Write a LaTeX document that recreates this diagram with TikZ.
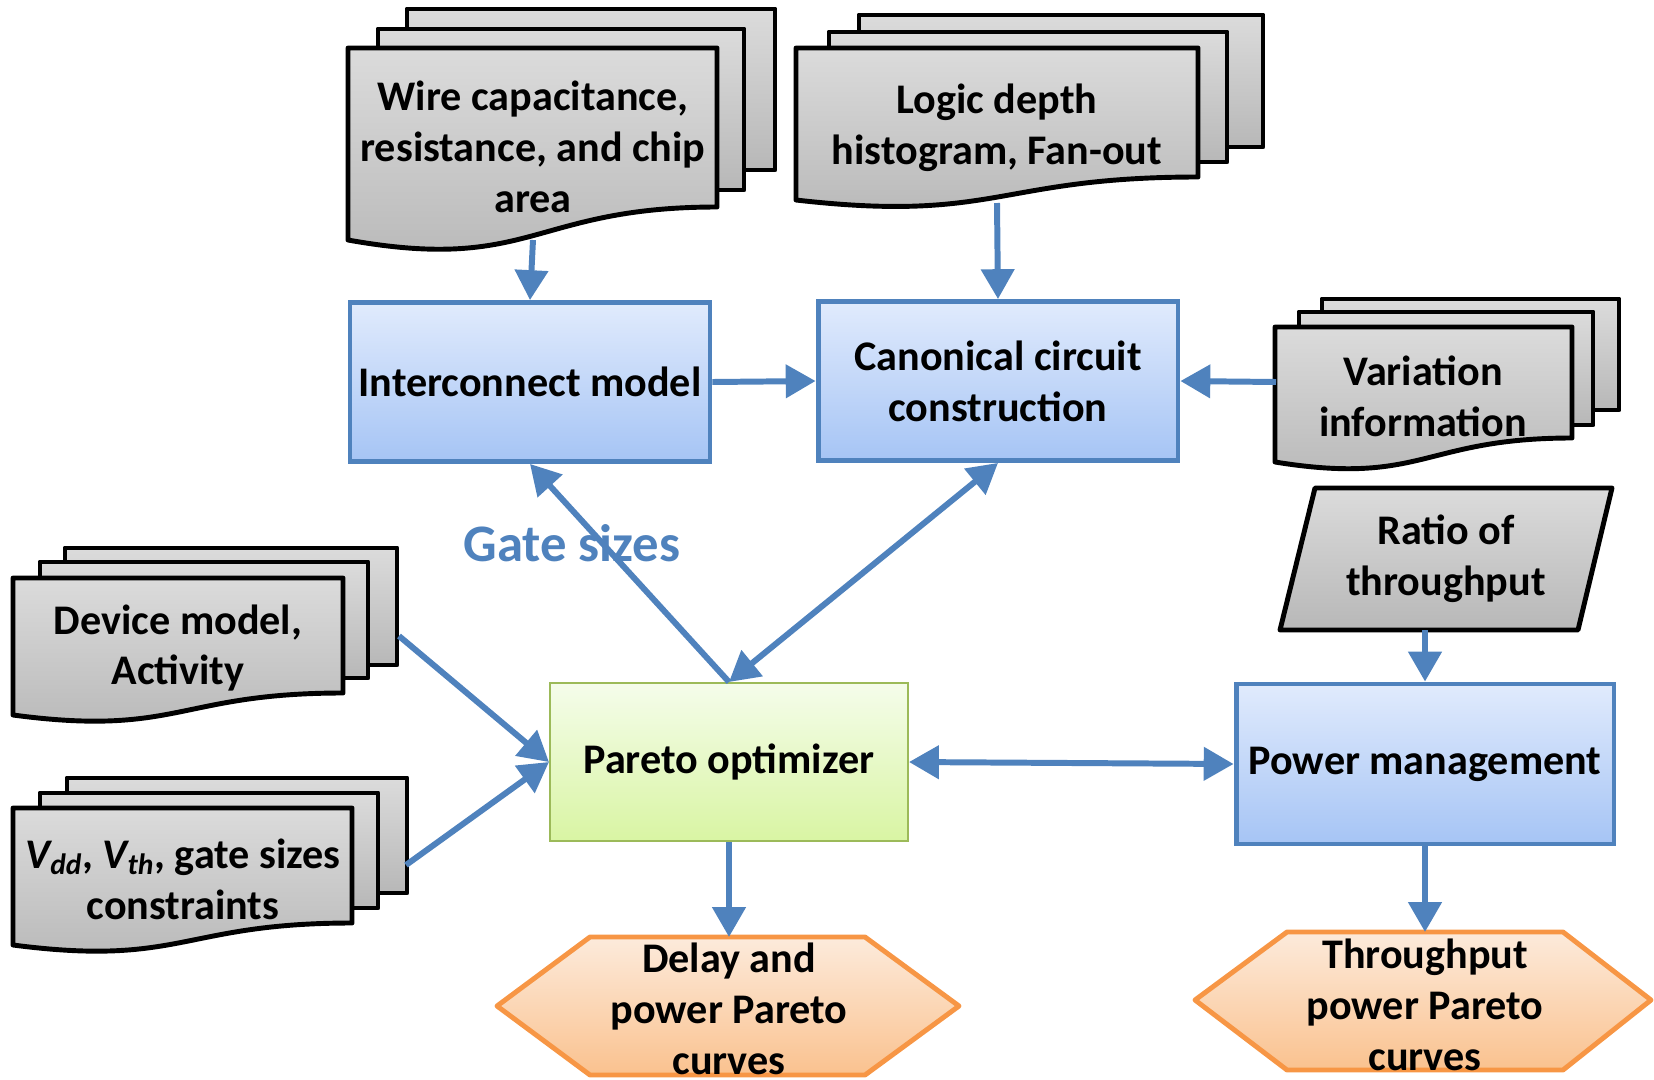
\documentclass[tikz,border=0pt]{standalone}
\usepackage{fontspec}
\setmainfont{Carlito}
\usetikzlibrary{arrows.meta}
\definecolor{arrblue}{rgb}{0.31,0.51,0.74}
\definecolor{bluetop}{rgb}{0.88,0.92,0.99}
\definecolor{bluebot}{rgb}{0.65,0.77,0.96}
\definecolor{greytop}{rgb}{0.86,0.86,0.86}
\definecolor{greybot}{rgb}{0.72,0.72,0.72}
\definecolor{greenln}{rgb}{0.61,0.73,0.35}
\definecolor{greentop}{rgb}{0.96,0.99,0.92}
\definecolor{greenbot}{rgb}{0.85,0.96,0.64}
\definecolor{orangeln}{rgb}{0.97,0.59,0.27}
\definecolor{orangetop}{rgb}{0.99,0.92,0.86}
\definecolor{orangebot}{rgb}{0.98,0.76,0.56}

\begin{document}
\begin{tikzpicture}[x=0.02cm,y=-0.02cm,
    page/.style={draw=black,line width=2.8pt,line join=round,top color=greytop,bottom color=greybot},
    txt/.style={font=\fontsize{24}{29}\selectfont\bfseries,align=center},
    blk/.style={txt,draw=arrblue,line width=2.8pt,top color=bluetop,bottom color=bluebot,minimum width=7.2cm,minimum height=3.18cm,inner sep=2pt},
    hexa/.style={draw=orangeln,line width=2.8pt,line join=round,top color=orangetop,bottom color=orangebot},
    link/.style={draw=arrblue,line width=3.4pt,-{Triangle[length=17pt,width=18.5pt]}},
    dlink/.style={draw=arrblue,line width=3.4pt,{Triangle[length=17pt,width=18.5pt]}-{Triangle[length=17pt,width=18.5pt]}}]
    \useasboundingbox (0,0) rectangle (1654,1079);

    % document stacks
    \draw[page] (407,9) rectangle (775,170);
    \draw[page] (378,29) rectangle (744,190);
    \draw[page] (348,48) -- (717,48) -- (717,207) .. controls (532,207) and (532,273) .. (348,240) -- cycle;
    \node[txt] (wire) at (533,147) {Wire capacitance,\\resistance, and chip\\area};

    \draw[page] (859,15) rectangle (1263,147);
    \draw[page] (829,32) rectangle (1227,162);
    \draw[page] (796,48) -- (1198,48) -- (1198,177) .. controls (997,177) and (997,223) .. (796,200) -- cycle;
    \node[txt] (logic) at (997,128) {Logic depth\\histogram, Fan-out};

    \draw[page] (1322,299) rectangle (1619,410);
    \draw[page] (1299,312) rectangle (1593,425);
    \draw[page] (1275,327) -- (1572,327) -- (1572,438) .. controls (1423,438) and (1423,486) .. (1275,462) -- cycle;
    \node[txt] (var) at (1423,396) {Variation\\information};

    \draw[page] (65,548) rectangle (397,665);
    \draw[page] (40,562) rectangle (368,678);
    \draw[page] (13,578) -- (343,578) -- (343,693) .. controls (178,693) and (178,737) .. (13,715) -- cycle;
    \node[txt] (dev) at (178,648) {Device model,\\Activity};

    \draw[page] (67,778) rectangle (407,893);
    \draw[page] (40,793) rectangle (378,908);
    \draw[page] (13,808) -- (352,808) -- (352,923) .. controls (182,923) and (182,967) .. (13,945) -- cycle;
    \node[txt] (vdd) at (183,879) {{\itshape V\textsubscript{dd}}, {\itshape V\textsubscript{th}}, gate sizes\\constraints};

    \draw[page] (1315,488) -- (1612,488) -- (1578,630) -- (1280,630) -- cycle;
    \node[txt,minimum height=2.84cm] (ratio) at (1446,559) {Ratio of\\throughput};

    % blocks
    \node[blk] (inter) at (530,382) {Interconnect model};
    \node[blk] (canon) at (998,381) {Canonical circuit\\construction};
    \node[blk,minimum width=7.56cm,minimum height=3.2cm] (power) at (1425,764) {Power management};
    \node[txt,draw=greenln,line width=1.2pt,top color=greentop,bottom color=greenbot,minimum width=7.16cm,minimum height=3.16cm] (pareto) at (729,762) {Pareto optimizer};

    % outputs
    \draw[hexa] (497,1006) -- (590,937) -- (865,937) -- (959,1006) -- (865,1075) -- (590,1075) -- cycle;
    \node[txt] (delay) at (729,1009) {Delay and\\power Pareto\\curves};
    \draw[hexa] (1195,1000) -- (1287,932) -- (1563,932) -- (1651,1000) -- (1563,1070) -- (1287,1070) -- cycle;
    \node[txt] (thru) at (1425,1005) {Throughput\\power Pareto\\curves};

    \coordinate (wire-s) at (533,240);
    \coordinate (logic-s) at (997,203);
    \coordinate (var-w) at (1276,382);
    \coordinate (dev-e) at (399,636);
    \coordinate (vdd-e) at (406,865);
    \coordinate (delay-n) at (729,937);
    \coordinate (thru-n) at (1425,932);

    \draw[link] (wire-s) -- (inter.north);
    \draw[link] (logic-s) -- (canon.north);
    \draw[link] (inter.east) -- (canon.west);
    \draw[link] (var-w) -- (canon.east);
    \draw[link] (pareto.north) -- (inter.south);
    \draw[dlink] (canon.south) -- (pareto.north);
    \draw[link] (dev-e) -- (pareto.west);
    \draw[link] (vdd-e) -- (pareto.west);
    \draw[dlink] (pareto.east) -- (power.west);
    \draw[link] (ratio.south -| power.north) -- (power.north);
    \draw[link] (pareto.south) -- (delay-n);
    \draw[link] (power.south) -- (thru-n);

    \node[font=\fontsize{30}{35}\selectfont\bfseries,text=arrblue] (gates) at (572,543) {Gate sizes};
\end{tikzpicture}
\end{document}
